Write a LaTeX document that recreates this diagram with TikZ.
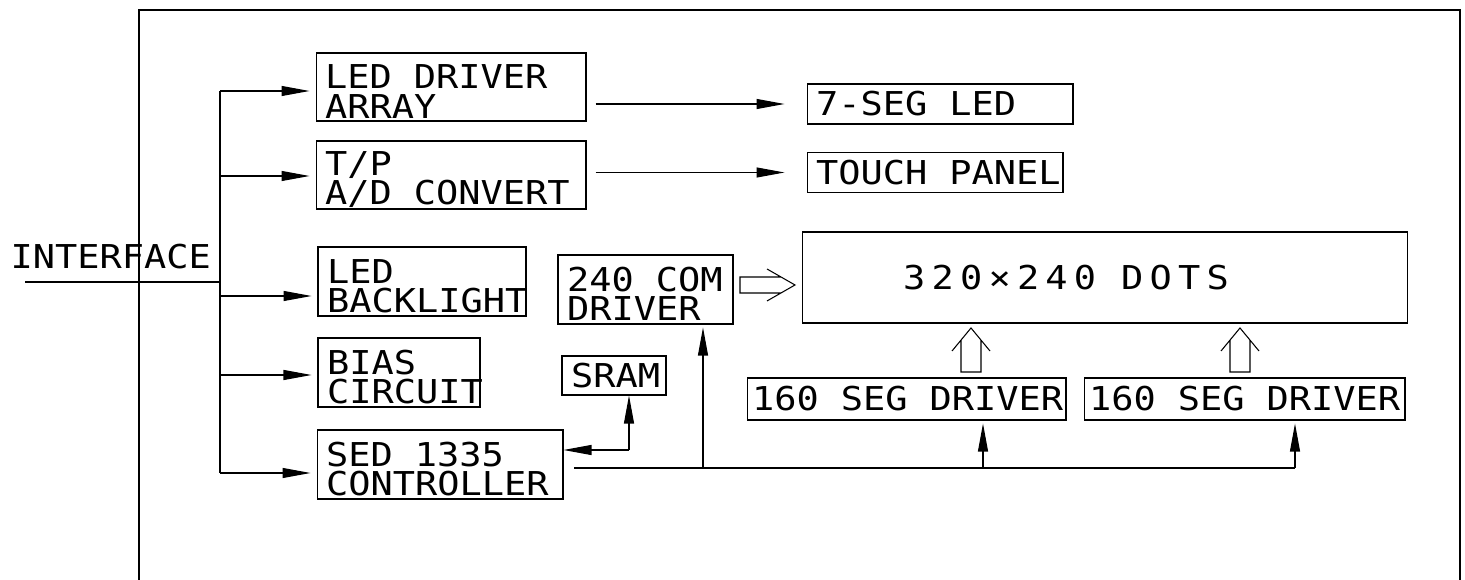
\documentclass[tikz,border=0pt]{standalone}
\usepackage{fontspec}
\newfontfamily\cadfont[FakeStretch=1.125]{DejaVu Sans Mono}
\usetikzlibrary{arrows.meta,positioning}
\newcommand\gap{\kern0.44cm\relax}
\newcommand\lowr{\rule{0pt}{0.66cm}}
\tikzset{
  blk/.style={draw,inner xsep=0.18cm,inner ysep=0pt,align=left,
    font={\cadfont\fontsize{18.7pt}{16.6pt}\selectfont\lineskiplimit=-20pt}},
  arr/.style={-{Triangle[length=0.56cm,width=0.2cm]}}
}

\begin{document}
\begin{tikzpicture}[x=0.02cm,y=-0.02cm,line width=0.6pt]
  \useasboundingbox (0,0) rectangle (1465,580);
  \draw (139,580) |- (1460,10) -- (1460,580);
  \node[blk,draw=none,inner sep=0pt,anchor=base west] (ifc) at (10,269) {INTERFACE};
  \node[blk,text width=5.04cm,minimum height=1.36cm] (drv) at (451,87) {\lowr LED\gap DRIVER\\ARRAY};
  \node[blk,text width=5.04cm,minimum height=1.36cm] (tpc) at (451,175) {\lowr T/P\\A/D\gap CONVERT};
  \node[blk,text width=3.80cm,minimum height=1.38cm] (blt) at (422,281.5) {\lowr LED\\BACKLIGHT};
  \node[blk,text width=2.88cm,minimum height=1.38cm] (bias) at (399,372.5) {\lowr BIAS\\CIRCUIT};
  \node[blk,text width=4.56cm,minimum height=1.38cm] (ctl) at (440,464.5) {\lowr SED\gap 1335\\CONTROLLER};
  \node[blk,text width=4.96cm,minimum height=0.8cm] (seg7) at (940,104) {7-SEG\gap LED};
  \node[blk,text width=4.76cm,minimum height=0.8cm] (tpn) at (935,172.5) {TOUCH\gap PANEL};
  \node[blk,text width=3.14cm,minimum height=1.38cm] (com) at (645.5,289.5) {\lowr 240\gap COM\\DRIVER};
  \node[blk,inner xsep=2.02cm,text width=8.08cm,minimum height=1.82cm] (dots) at (1105,277.5)
    {\addfontfeatures{LetterSpace=19}320×240\kern0.5cm DOTS};
  \node[blk,text width=1.72cm,minimum height=0.78cm] (sram) at (614,375.5) {SRAM};
  \node[blk,inner xsep=0.1cm,text width=6.18cm,minimum height=0.84cm] (sega) at (906.5,399) {160\gap SEG\gap DRIVER};
  \node[blk,inner xsep=0.1cm,text width=6.22cm,minimum height=0.84cm] (segb) at (1244.5,399) {160\gap SEG\gap DRIVER};

  \coordinate (ifin) at (25,282);
  \coordinate (bt) at (220,91);
  \coordinate (bb) at (220,473);
  \draw (ifin) -- (ifin -| bt);
  \draw (bt) -- (bb);
  \foreach \y/\n in {91/drv,176/tpc,296/blt,375/bias,473/ctl}{
    \coordinate (br) at (220,\y);
    \draw[arr,shorten >=0.12cm] (br) -- (br -| \n.west);
  }
  \draw[arr,shorten <=0.18cm,shorten >=0.44cm] (drv.east |- seg7.west) -- (seg7.west);
  \draw[arr,shorten <=0.18cm,shorten >=0.44cm] (tpc.east |- tpn.west) -- (tpn.west);

  \coordinate (sk) at (629,450);
  \draw[arr] (sk) -- (sk -| ctl.east);
  \draw[arr] (sk) -- (sk |- sram.south);
  \coordinate (bs) at (574,468);
  \coordinate (be) at (1295,468);
  \draw (bs) -- (be);
  \foreach \x/\n in {703/com,983/sega,1295/segb}{
    \coordinate (tp) at (\x,468);
    \draw[arr,shorten >=0.06cm] (tp) -- (tp |- \n.south);
  }

  \draw (767,269) -- (795,285) -- (767,301) (781,277) -- (740,277) -- (740,293) -- (781,293);
  \foreach \x in {971,1240}
    \draw (\x-19,351) -- (\x,328) -- (\x+19,351) (\x-10,340) -- (\x-10,372) -- (\x+10,372) -- (\x+10,340);
\end{tikzpicture}
\end{document}
